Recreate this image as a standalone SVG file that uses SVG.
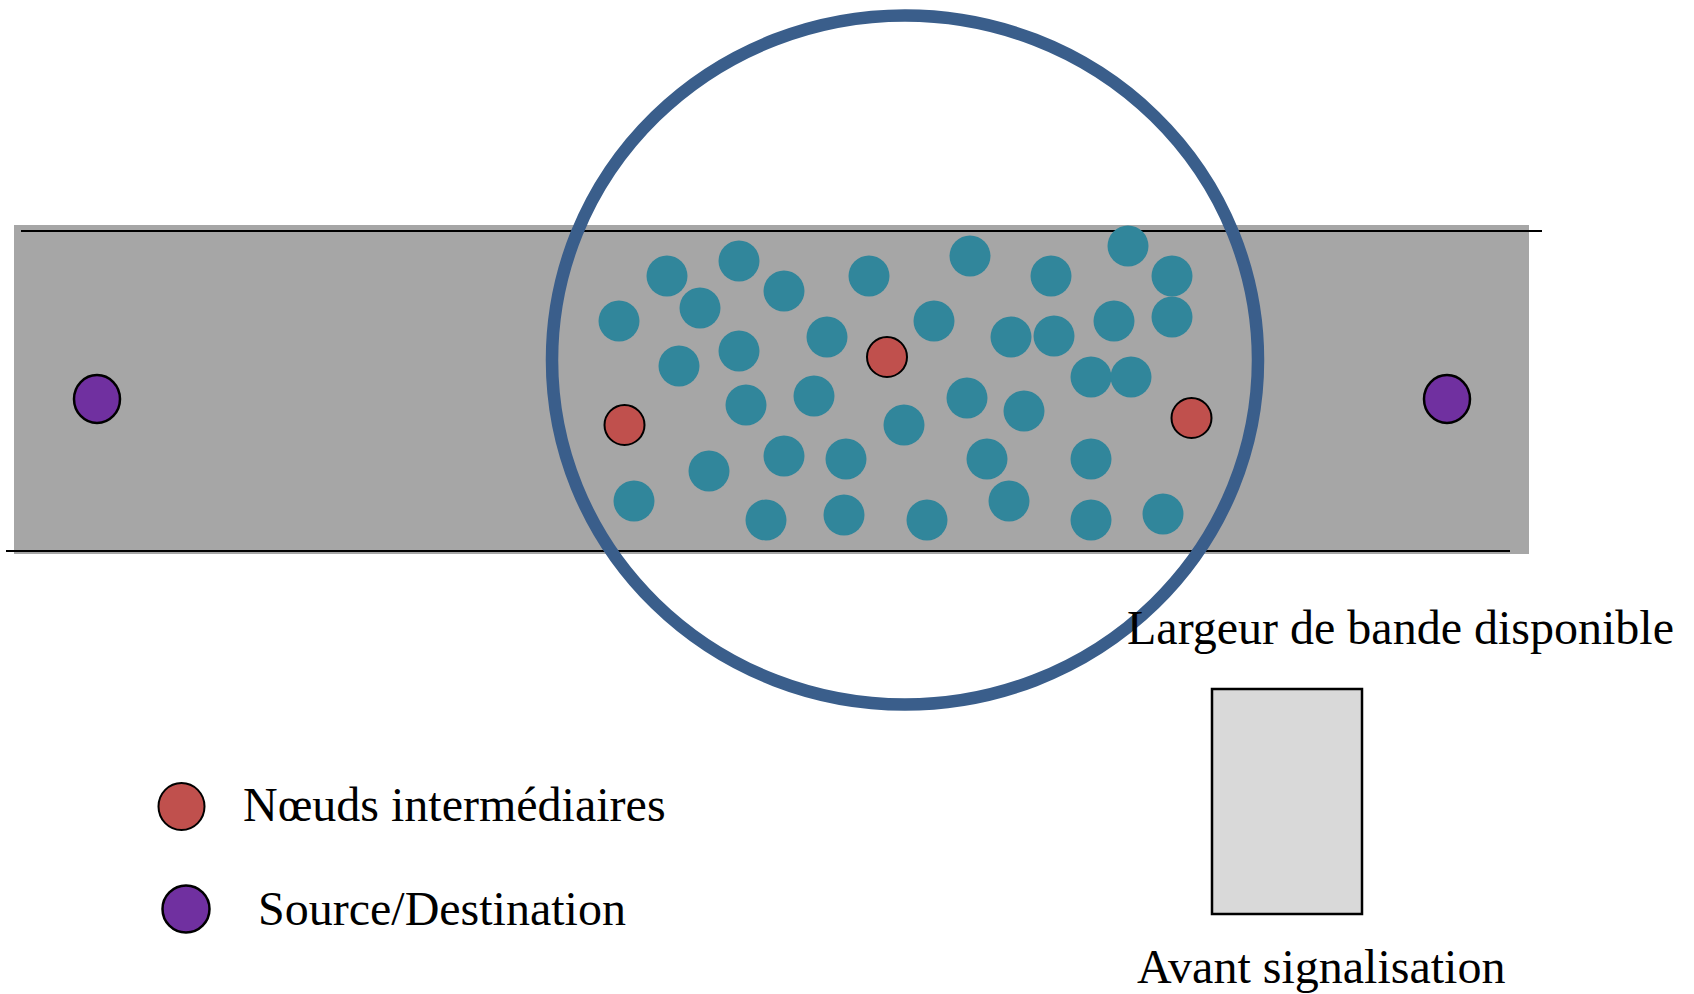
<svg xmlns="http://www.w3.org/2000/svg" width="1694" height="994" viewBox="0 0 1694 994">
<style>
.band{fill:#A6A6A6}
.edge{stroke:#000;stroke-width:2;fill:none}
.t{fill:#31869B}
.r{fill:#C0504D;stroke:#000;stroke-width:2}
.p{fill:#7030A0;stroke:#000;stroke-width:2.5}
.ring{fill:none;stroke:#3A5E8B;stroke-width:12.5}
.lbl{font-family:"Liberation Serif","Times New Roman",serif;font-size:48px;fill:#000}
.bw{fill:#D9D9D9;stroke:#000;stroke-width:2.5}
</style>
<rect class="band" x="14" y="225" width="1515" height="329"/>
<g id="connectors">
<line class="edge" x1="21" y1="231" x2="1542" y2="231"/>
<line class="edge" x1="6" y1="551" x2="1510" y2="551"/>
</g>
<g id="teal-nodes">
<circle class="t" cx="667" cy="276" r="20.5"/>
<circle class="t" cx="739" cy="261" r="20.5"/>
<circle class="t" cx="784" cy="291" r="20.5"/>
<circle class="t" cx="700" cy="308" r="20.5"/>
<circle class="t" cx="619" cy="321" r="20.5"/>
<circle class="t" cx="869" cy="276" r="20.5"/>
<circle class="t" cx="970" cy="256" r="20.5"/>
<circle class="t" cx="1051" cy="276" r="20.5"/>
<circle class="t" cx="1128" cy="246" r="20.5"/>
<circle class="t" cx="1172" cy="276" r="20.5"/>
<circle class="t" cx="739" cy="351" r="20.5"/>
<circle class="t" cx="679" cy="366" r="20.5"/>
<circle class="t" cx="827" cy="337" r="20.5"/>
<circle class="t" cx="934" cy="321" r="20.5"/>
<circle class="t" cx="1011" cy="337" r="20.5"/>
<circle class="t" cx="1054" cy="336" r="20.5"/>
<circle class="t" cx="1114" cy="321" r="20.5"/>
<circle class="t" cx="1172" cy="317" r="20.5"/>
<circle class="t" cx="1091" cy="377" r="20.5"/>
<circle class="t" cx="1131" cy="377" r="20.5"/>
<circle class="t" cx="746" cy="405" r="20.5"/>
<circle class="t" cx="814" cy="396" r="20.5"/>
<circle class="t" cx="967" cy="398" r="20.5"/>
<circle class="t" cx="1024" cy="411" r="20.5"/>
<circle class="t" cx="904" cy="425" r="20.5"/>
<circle class="t" cx="709" cy="471" r="20.5"/>
<circle class="t" cx="784" cy="456" r="20.5"/>
<circle class="t" cx="846" cy="459" r="20.5"/>
<circle class="t" cx="987" cy="459" r="20.5"/>
<circle class="t" cx="1091" cy="459" r="20.5"/>
<circle class="t" cx="634" cy="501" r="20.5"/>
<circle class="t" cx="766" cy="520" r="20.5"/>
<circle class="t" cx="844" cy="515" r="20.5"/>
<circle class="t" cx="927" cy="520" r="20.5"/>
<circle class="t" cx="1009" cy="501" r="20.5"/>
<circle class="t" cx="1091" cy="520" r="20.5"/>
<circle class="t" cx="1163" cy="514" r="20.5"/>
</g>
<g id="red-node-1"><circle class="r" cx="624.5" cy="425" r="20"/></g>
<g id="red-node-2"><circle class="r" cx="887" cy="357" r="20"/></g>
<g id="red-node-3"><circle class="r" cx="1191.5" cy="418" r="20"/></g>
<g id="source"><ellipse class="p" cx="97" cy="399" rx="23" ry="24"/></g>
<g id="destination"><ellipse class="p" cx="1447" cy="399" rx="23" ry="24"/></g>
<g id="range"><ellipse class="ring" cx="905" cy="360" rx="353" ry="344.5"/></g>
<g id="legend-red">
<ellipse class="r" cx="181.5" cy="806.5" rx="23" ry="23.5"/>
<text class="lbl" x="243" y="821">Nœuds intermédiaires</text>
</g>
<g id="legend-purple">
<ellipse class="p" cx="186" cy="909" rx="23.5" ry="23.5"/>
<text class="lbl" x="258" y="925">Source/Destination</text>
</g>
<g id="bandwidth">
<text class="lbl" x="1127" y="644">Largeur de bande disponible</text>
<rect class="bw" x="1212" y="689" width="150" height="225"/>
<text class="lbl" x="1137" y="983">Avant signalisation</text>
</g>
</svg>
